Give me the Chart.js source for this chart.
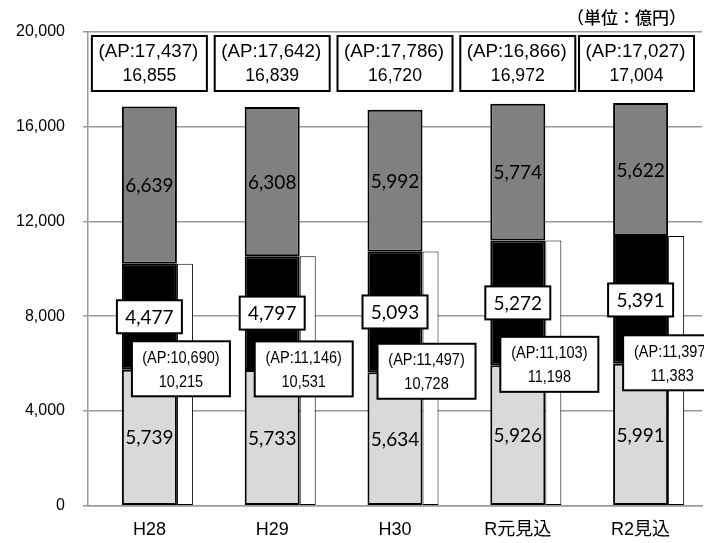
<!DOCTYPE html>
<html>
<head>
<meta charset="utf-8">
<script src="https://cdn.jsdelivr.net/npm/chart.js@4/dist/chart.umd.min.js"></script>
<style>
    html, body { margin: 0; padding: 0; background: #fff; }
    #wrap { width: 704px; height: 543px; }
</style>
</head>
<body>
<div id="wrap"><canvas id="chart" width="704" height="543"></canvas></div>
<script>
// values (単位：億円)
const categories = ['H28', 'H29', 'H30', 'R元見込', 'R2見込'];
const baseValues = [5739, 5733, 5634, 5926, 5991];      // light gray
const midValues = [4477, 4797, 5093, 5272, 5391];       // black
const topValues = [6639, 6308, 5992, 5774, 5622];       // dark gray
const totals = [16855, 16839, 16720, 16972, 17004];
const totalsAP = [17437, 17642, 17786, 16866, 17027];
const subTotals = [10215, 10531, 10728, 11198, 11383];  // thin white bar
const subTotalsAP = [10690, 11146, 11497, 11103, 11397];
const yTicks = [0, 4000, 8000, 12000, 16000, 20000];

const fmt = v => v.toLocaleString('en-US');
const GRID = '#9a9a9a';
const SANS = "'Liberation Sans', 'Noto Sans CJK JP', sans-serif";

function drawBox(ctx, cx, cy, w, h) {
    ctx.fillStyle = '#fff';
    ctx.fillRect(cx - w / 2, cy - h / 2, w, h);
    ctx.lineWidth = 2;
    ctx.strokeStyle = '#000';
    ctx.strokeRect(cx - w / 2, cy - h / 2, w, h);
}

// narrow text, like the condensed gothic of the original
function narrowText(ctx, text, x, y, sx) {
    ctx.save();
    ctx.translate(x, y);
    ctx.scale(sx, 1);
    ctx.fillText(text, 0, 0);
    ctx.restore();
}

// Labels drawn on top of the bars
const labelPlugin = {
    id: 'barLabels',
    afterDatasetsDraw(chart) {
        const ctx = chart.ctx;
        const yScale = chart.scales.y;
        const baseMeta = chart.getDatasetMeta(1);
        const midMeta = chart.getDatasetMeta(2);
        const topMeta = chart.getDatasetMeta(3);
        const subMeta = chart.getDatasetMeta(4);
        ctx.save();
        ctx.textAlign = 'center';
        ctx.textBaseline = 'middle';

        categories.forEach(function(cat, i) {
            const cx = baseMeta.data[i].x;

            // segment values
            ctx.font = '19px Lato';
            ctx.fillStyle = '#000';
            const b = baseMeta.data[i];
            ctx.fillText(fmt(baseValues[i]), cx, (b.y + b.base) / 2 + 1);
            const t = topMeta.data[i];
            ctx.fillText(fmt(topValues[i]), cx, (t.y + t.base) / 2 + 1);

            // black segment value in a white box
            const m = midMeta.data[i];
            const my = (m.y + m.base) / 2;
            drawBox(ctx, cx, my, 65, 33);
            ctx.fillStyle = '#000';
            ctx.fillText(fmt(midValues[i]), cx, my + 1);

            // totals box at the top
            const tx = Math.min(cx, 694 - 57.5);
            const ty = 63.5;
            drawBox(ctx, tx, ty, 115, 55);
            ctx.fillStyle = '#000';
            ctx.font = '18px ' + SANS;
            narrowText(ctx, '(AP:' + fmt(totalsAP[i]) + ')', tx - 1, ty - 11, 1.04);
            narrowText(ctx, fmt(totals[i]), tx, ty + 13, 0.98);

            // sub total box next to the white bar
            const s = subMeta.data[i];
            const sx = s.x - 4;
            const sy = yScale.getPixelForValue(baseValues[i]) - 1;
            drawBox(ctx, sx, sy, 98, 55);
            ctx.fillStyle = '#000';
            ctx.font = '16.5px ' + SANS;
            narrowText(ctx, '(AP:' + fmt(subTotalsAP[i]) + ')', sx, sy - 10.5, 0.88);
            narrowText(ctx, fmt(subTotals[i]), sx, sy + 13.5, 0.88);
        });

        // unit note
        ctx.textAlign = 'right';
        ctx.font = "500 17px 'Noto Sans CJK JP'";
        ctx.fillStyle = '#000';
        ctx.fillText('（単位：億円）', 686, 18);
        ctx.restore();
    }
};

const barStyle = { borderColor: '#000', borderWidth: 2, borderSkipped: false, barPercentage: 1.548 };

new Chart(document.getElementById('chart').getContext('2d'), {
    type: 'bar',
    data: {
        labels: categories,
        datasets: [
            { label: 'pad', data: categories.map(() => 0), stack: 'pad', backgroundColor: 'rgba(0,0,0,0)', borderWidth: 0 },
            Object.assign({ label: 'base', data: baseValues, stack: 'main', backgroundColor: '#d9d9d9' }, barStyle),
            Object.assign({ label: 'mid', data: midValues, stack: 'main', backgroundColor: '#000000' }, barStyle),
            Object.assign({ label: 'top', data: topValues, stack: 'main', backgroundColor: '#808080' }, barStyle),
            { label: 'sub', data: subTotals, stack: 'sub', backgroundColor: '#ffffff', borderColor: '#000', borderWidth: 1, borderSkipped: false, barPercentage: 0.45 }
        ]
    },
    options: {
        responsive: false,
        animation: false,
        layout: { padding: { top: 32, right: 2, left: 0, bottom: 0 } },
        datasets: { bar: { categoryPercentage: 0.868 } },
        plugins: { legend: { display: false }, tooltip: { enabled: false } },
        scales: {
            x: {
                stacked: true,
                grid: { display: false, drawTicks: false },
                border: { display: true, color: GRID, width: 1.5 },
                ticks: { color: '#000', font: { family: SANS, size: 18 }, padding: 14, maxRotation: 0, autoSkip: false },
                afterFit: function(scale) { scale.height = 37.3; }
            },
            y: {
                stacked: true,
                min: 0,
                max: 20000,
                afterBuildTicks: function(scale) { scale.ticks = yTicks.map(v => ({ value: v })); },
                grid: { color: GRID, lineWidth: 1.5, tickLength: 5 },
                border: { color: GRID, width: 1.5 },
                ticks: { color: '#000', font: { family: SANS, size: 16 }, padding: 18, callback: v => fmt(v) },
                afterFit: function(scale) { scale.width = 88; }
            }
        }
    },
    plugins: [labelPlugin]
});
</script>
</body>
</html>
